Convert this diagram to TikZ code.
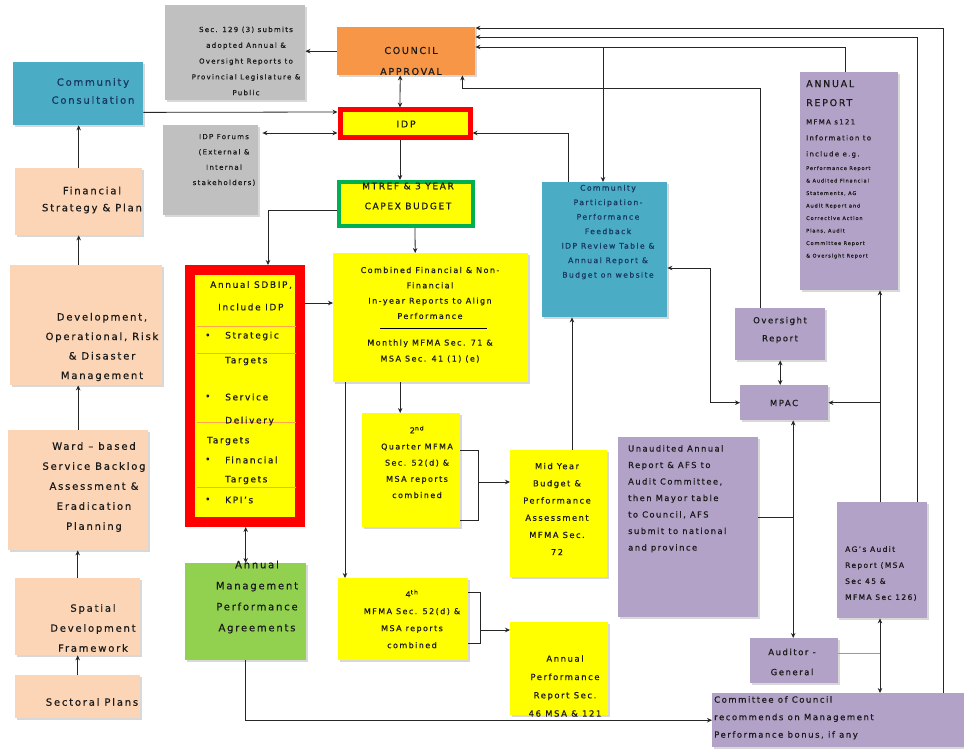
\documentclass[tikz,border=0pt]{standalone}
\usepackage{fontspec}
\setmainfont{DejaVu Sans}[LetterSpace=18,FakeBold=0.6]
\usetikzlibrary{arrows.meta,shadows,calc}
\newcommand{\fs}[2]{\fontsize{#1}{#2}\selectfont}
\definecolor{corange}{HTML}{F79646}
\definecolor{cteal}{HTML}{4BACC6}
\definecolor{cpeach}{HTML}{FBD5B5}
\definecolor{cyellow}{HTML}{FFFF00}
\definecolor{cred}{HTML}{FF0000}
\definecolor{cgreen}{HTML}{00B050}
\definecolor{clgreen}{HTML}{92D050}
\definecolor{cpurple}{HTML}{B3A2C7}
\definecolor{cgrey}{HTML}{C0C0C0}
\definecolor{ctext}{HTML}{1A1A1A}
\definecolor{cnavy}{HTML}{17375E}
\begin{document}
\begin{tikzpicture}[x=1pt,y=-1pt,
 box/.style={anchor=north west, inner sep=0pt, drop shadow={shadow xshift=2pt,shadow yshift=-2pt,fill=black!30}},
 lab/.style={inner sep=0pt, align=center, text=ctext},
 labl/.style={inner sep=0pt, align=left, text=ctext},
 ln/.style={draw=black!85, line width=0.8pt},
 arr/.style={ln, -{Stealth[length=5pt,width=4.5pt]}},
 dar/.style={ln, {Stealth[length=5pt,width=4.5pt]}-{Stealth[length=5pt,width=4.5pt]}},
]
\useasboundingbox (0,0) rectangle (964,751);
\fill[white] (0,0) rectangle (964,751);

% ---------- boxes ----------
\node[box, fill=cgrey, minimum width=140, minimum height=95] (gtop) at (165,5) {};
\node[box, fill=corange, minimum width=138, minimum height=48] (council) at (337,27) {};
\node[box, fill=cyellow, draw=cred, line width=5pt, minimum width=130, minimum height=28] (idp) at (337.5,107.5) {};
\node[box, fill=cgrey, minimum width=95, minimum height=90] (gidp) at (163,125) {};
\node[box, fill=cyellow, draw=cgreen, line width=4pt, minimum width=134, minimum height=44] (mtref) at (337,180) {};
\node[box, fill=cteal, minimum width=130, minimum height=63] (cc) at (13,62) {};
\node[box, fill=cpeach, minimum width=127, minimum height=67] (fin) at (15,168) {};
\node[box, fill=cpeach, minimum width=152, minimum height=120] (dev) at (10,265) {};
\node[box, fill=cpeach, minimum width=140, minimum height=120] (ward) at (8,430) {};
\node[box, fill=cpeach, minimum width=125, minimum height=77] (spat) at (15,578) {};
\node[box, fill=cpeach, minimum width=125, minimum height=43] (sect) at (15,675) {};
\node[box, fill=cyellow, draw=cred, line width=10pt, minimum width=110, minimum height=252] (sdbip) at (185,265) {};
\node[box, fill=clgreen, minimum width=121, minimum height=97] (ampa) at (185,563) {};
\node[box, fill=cyellow, minimum width=195, minimum height=129] (comb) at (333,253) {};
\node[box, fill=cyellow, minimum width=98, minimum height=114] (q2) at (362,413) {};
\node[box, fill=cyellow, minimum width=97, minimum height=127] (mid) at (510,450) {};
\node[box, fill=cyellow, minimum width=130, minimum height=82] (q4) at (338,578) {};
\node[box, fill=cyellow, minimum width=98, minimum height=93] (apr) at (510,622) {};
\node[box, fill=cteal, minimum width=125, minimum height=135] (cp) at (542,182) {};
\node[box, fill=cpurple, minimum width=98, minimum height=218] (arep) at (800,72) {};
\node[box, fill=cpurple, minimum width=90, minimum height=52] (over) at (735,308) {};
\node[box, fill=cpurple, minimum width=88, minimum height=35] (mpac) at (740,385) {};
\node[box, fill=cpurple, minimum width=140, minimum height=180] (unaud) at (618,437) {};
\node[box, fill=cpurple, minimum width=90, minimum height=116] (ags) at (837,502) {};
\node[box, fill=cpurple, minimum width=88, minimum height=45] (ag) at (750,638) {};
\node[box, fill=cpurple, minimum width=252, minimum height=54] (comm) at (712,693) {};

% separators in SDBIP
\draw[orange!70, line width=0.4pt] (197,326) -- (296,326) (197,353) -- (296,353) (197,422) -- (296,422) (197,487) -- (296,487);
\draw[black, line width=0.7pt] (380,328) -- (487,328);

% ---------- texts ----------
\node[lab, font=\fs{7}{15.8}] (tgtop) at (246,61) {Sec. 129 (3) submits\\adopted Annual \&\\Oversight Reports to\\Provincial Legislature \&\\Public};
\node[lab, font=\fs{9.5}{21}] (tcouncil) at (411,61) {COUNCIL\\APPROVAL};
\node[lab, font=\fs{9.5}{12}] (tidp) at (406,124) {IDP};
\node[lab, font=\fs{7}{15.3}] (tgidp) at (224,160) {IDP Forums\\(External \&\\Internal\\stakeholders)};
\node[lab, font=\fs{9}{20}] (tmtref) at (408,196) {MTREF \& 3 YEAR\\CAPEX BUDGET};
\node[lab, font=\fs{10}{18}, text=cnavy] (tcc) at (93,91) {Community\\Consultation};
\node[lab, font=\fs{10}{17}] (tfin) at (92,200) {Financial\\Strategy \& Plan};
\node[lab, font=\fs{10}{19.5}] (tdev) at (102,347) {Development,\\Operational, Risk\\\& Disaster\\Management};
\node[lab, font=\fs{10}{20}] (tward) at (94,487) {Ward -- based\\Service Backlog\\Assessment \&\\Eradication\\Planning};
\node[lab, font=\fs{10}{20}] (tspat) at (93,628) {Spatial\\Development\\Framework};
\node[lab, font=\fs{10}{12}] (tsect) at (92,702) {Sectoral Plans};

\begin{scope}[every node/.style={labl, font=\fs{9}{12}, anchor=west}]
\node (s1) at (210,285) {Annual SDBIP,};
\node (s2) at (218,307) {Include IDP};
\node (s3b) at (205,336) {\textbullet};
\node (s3) at (225,336) {Strategic};
\node (s4) at (225,361) {Targets};
\node (s5b) at (205,397) {\textbullet};
\node (s5) at (225,397) {Service};
\node (s6) at (225,421) {Delivery};
\node (s7) at (207,441) {Targets};
\node (s8b) at (205,460) {\textbullet};
\node (s8) at (225,460) {Financial};
\node (s9) at (225,480) {Targets};
\node (s10b) at (205,500) {\textbullet};
\node (s10) at (225,500) {KPI's};
\end{scope}

\node[lab, font=\fs{10}{21}] (tampa) at (257,597) {Annual\\Management\\Performance\\Agreements};
\node[lab, font=\fs{8}{15.3}] (tcomb1) at (430,293) {Combined Financial \& Non-\\Financial\\In-year Reports to Align\\Performance};
\node[lab, font=\fs{8}{16}] (tcomb2) at (430,351) {Monthly MFMA Sec. 71 \&\\MSA Sec. 41 (1) (e)};
\node[lab, font=\fs{8}{16.2}] (tq2) at (417,462) {2\textsuperscript{nd}\\Quarter MFMA\\Sec. 52(d) \&\\MSA reports\\combined};
\node[lab, font=\fs{8.3}{17.2}] (tmid) at (557,509) {Mid Year\\Budget \&\\Performance\\Assessment\\MFMA Sec.\\72};
\node[lab, font=\fs{8}{17}] (tq4) at (412,619) {4\textsuperscript{th}\\MFMA Sec. 52(d) \&\\MSA reports\\combined};
\node[lab, font=\fs{8.5}{18.3}] (tapr) at (565,686) {Annual\\Performance\\Report Sec.\\46 MSA \& 121};
\node[lab, font=\fs{7.7}{14.5}, text=cnavy] (tcp) at (608,232) {Community\\Participation-\\Performance\\Feedback\\IDP Review Table \&\\Annual Report \&\\Budget on website};
\node[labl, font=\fs{9.5}{19}, anchor=north west] (tar1) at (806,80) {ANNUAL\\REPORT};
\node[labl, font=\fs{7}{16}, anchor=north west] (tar2) at (806,119) {MFMA s121\\Information to\\include e.g.};
\node[labl, font=\fs{5}{12.5}, anchor=north west] (tar3) at (806,166) {Performance Report\\\& Audited Financial\\Statements, AG\\Audit Report and\\Corrective Action\\Plans, Audit\\Committee Report\\\& Oversight Report};
\node[lab, font=\fs{8.5}{18}] (tover) at (780,330) {Oversight\\Report};
\node[lab, font=\fs{8.5}{12}] (tmpac) at (784,403) {MPAC};
\node[labl, font=\fs{8.3}{16.5}, anchor=north west] (tunaud) at (628,445) {Unaudited Annual\\Report \& AFS to\\Audit Committee,\\then Mayor table\\to Council, AFS\\submit to national\\and province};
\node[labl, font=\fs{7.5}{16}, anchor=north west] (tags) at (845,546) {AG's Audit\\Report (MSA\\Sec 45 \&\\MFMA Sec 126)};
\node[lab, font=\fs{8.5}{20}] (tag) at (792,662) {Auditor -\\General};
\node[labl, font=\fs{8.5}{17.5}, anchor=north west] (tcomm) at (714,696) {Committee of Council\\recommends on Management\\Performance bonus, if any};

% ---------- connectors ----------
\draw[arr] (council.west) -- (council.west -| gtop.east);
\draw[dar] ($(council.south)+(-6,0)$) -- ($(idp.north)+(-5,0)$);
\draw[arr] ($(cc.south east)+(0,-13)$) -- ($(idp.west)+(0,-12)$);
\draw[dar] ($(gidp.north east)+(4,8)$) -- ($(idp.west)+(0,9)$);
\draw[arr] ($(idp.south)+(-5,0)$) -- ($(mtref.north)+(-6,0)$);
\draw[arr] ($(mtref.west)+(0,6)$) -| ($(sdbip.north)+(23,0)$);
\draw[arr] ($(mtref.south)+(9,0)$) -- ($(comb.north)+(-15.5,0)$);
\draw[arr] ($(sdbip.north east)+(0,38)$) -- ($(comb.north west)+(0,50)$);
\draw[arr] ($(comb.south)+(-30.5,0)$) -- ($(q2.north)+(-11,0)$);
\draw[arr] ($(comb.south west)+(12,0)$) -- ($(q4.north west)+(7,0)$);
\draw[ln] ($(q2.north east)+(0,37)$) -- ++(18,0) -- ++(0,70) -- ++(-18,0);
\draw[arr] ($(q2.north east)+(18,69)$) -- ($(mid.north west)+(0,32)$);
\draw[ln] ($(q4.north east)+(0,14)$) -- ++(12,0) -- ++(0,51) -- ++(-12,0);
\draw[arr] ($(q4.north east)+(12,52)$) -- ($(apr.north west)+(0,8)$);
\draw[arr] ($(mid.north west)+(62,0)$) -- ($(cp.south west)+(30,0)$);
\draw[dar] (ampa.north) -- (ampa.north |- sdbip.south);
\draw[arr] (ampa.south) |- (comm.west);
\draw[arr] (sect.north) -- (spat.south);
\draw[arr] (spat.north) -- (spat.north |- ward.south);
\draw[arr] (ward.north) -- (ward.north |- dev.south);
\draw[arr] (fin.south |- dev.north) -- (fin.south);
\draw[arr] (fin.north) -- (fin.north |- cc.south);

\draw[ln] ($(unaud.north east)+(0,80)$) -- ++(35,0);
\coordinate (vx) at ($(ag.north)+(-1,0)$);
\draw[dar] (vx |- mpac.south) -- (vx);
\draw[dar] (mpac.west) -- ++(-30,0) |- ($(cp.north east)+(0,86)$);
\draw[dar] (over.south) -- (over.south |- mpac.north);
\coordinate (v880) at ($(ags.north west)+(43,0)$);
\draw[arr] (v880) -- (v880 |- arep.south);
\draw[arr] (v880 |- mpac.east) -- (mpac.east);
\draw[dar] ($(ags.south west)+(43,0)$) -- ($(comm.north west)+(168,0)$);
\draw[ln, black!40] ($(ag.north east)+(0,15)$) -- ++(42,0);

\draw[arr] ($(arep.north west)+(45,0)$) |- ($(council.north east)+(0,20)$);
\draw[arr] ($(ags.north west)+(80,0)$) |- ($(council.north east)+(0,10)$);
\draw[arr] ($(comm.north west)+(231,0)$) |- ($(council.north east)+(0,1)$);
\draw[arr] ($(over.north west)+(25,0)$) |- ($(council.south east)+(-13,13)$) -- ($(council.south east)+(-13,0)$);
\draw[arr] ($(cp.north west)+(26,0)$) |- ($(idp.east)+(0,9)$);
\draw[arr] ($(cp.north west)+(61,-135)$) -- ($(cp.north west)+(61,0)$);
\end{tikzpicture}
\end{document}
